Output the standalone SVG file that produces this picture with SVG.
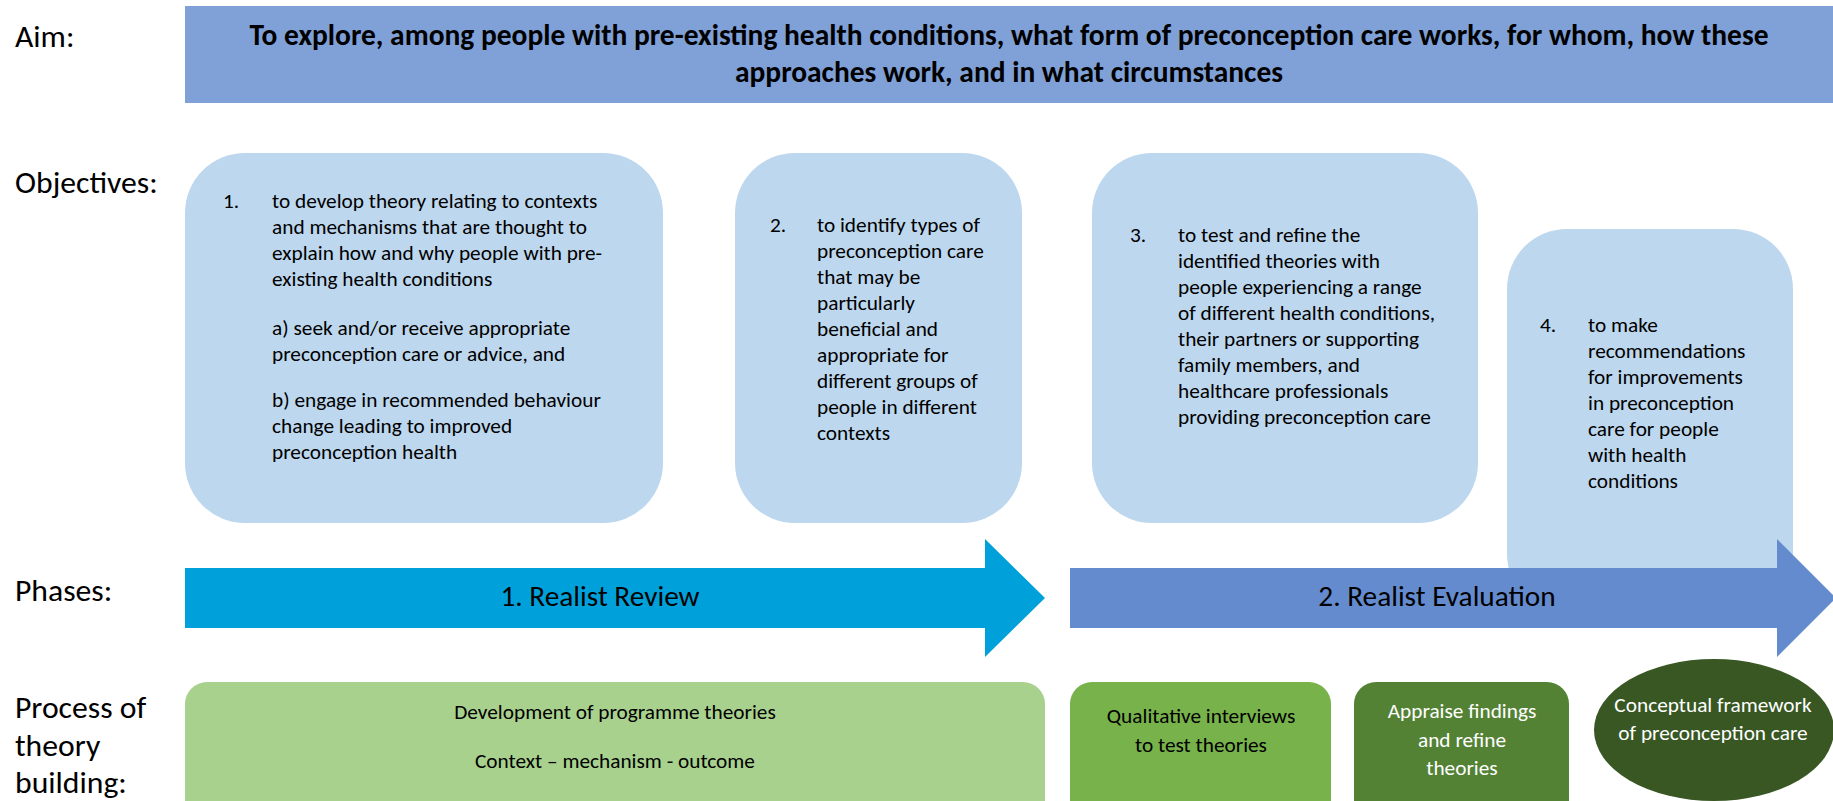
<svg xmlns="http://www.w3.org/2000/svg" width="1833" height="801" viewBox="0 0 1833 801">
<style>
text{font-family:Carlito,Lato,'Liberation Sans',sans-serif;fill:#000}
.lbl{font-size:31.7px}
.aim{font-size:29.3px;font-weight:bold}
.t{font-size:21.3px}
.ph{font-size:29.3px}
.w{fill:#fff}
.c{text-anchor:middle}
.obj{fill:#BDD7EE}
</style>
<rect width="1833" height="801" fill="#fff"/>
<g id="labels">
<text class="lbl" x="15" y="47">Aim:</text>
<text class="lbl" x="15" y="193">Objectives:</text>
<text class="lbl" x="15" y="601">Phases:</text>
<text class="lbl" x="15" y="718">Process of</text>
<text class="lbl" x="15" y="756">theory</text>
<text class="lbl" x="15" y="793">building:</text>
</g>
<g id="aim">
<rect x="185" y="6" width="1648" height="97" fill="#7FA1D8"/>
<text class="aim c" x="1009" y="45" textLength="1519" lengthAdjust="spacingAndGlyphs">To explore, among people with pre-existing health conditions, what form of preconception care works, for whom, how these</text>
<text class="aim c" x="1009" y="82" textLength="548" lengthAdjust="spacingAndGlyphs">approaches work, and in what circumstances</text>
</g>
<g id="objective1">
<rect class="obj" x="185" y="153" width="478" height="370" rx="60" ry="60"/>
<text class="t" x="223" y="208">1.</text>
<text class="t" x="272" y="208">to develop theory relating to contexts</text>
<text class="t" x="272" y="234">and mechanisms that are thought to</text>
<text class="t" x="272" y="260">explain how and why people with pre-</text>
<text class="t" x="272" y="286">existing health conditions</text>
<text class="t" x="272" y="335">a) seek and/or receive appropriate</text>
<text class="t" x="272" y="361">preconception care or advice, and</text>
<text class="t" x="272" y="407">b) engage in recommended behaviour</text>
<text class="t" x="272" y="433">change leading to improved</text>
<text class="t" x="272" y="459">preconception health</text>
</g>
<g id="objective2">
<rect class="obj" x="735" y="153" width="287" height="370" rx="60" ry="60"/>
<text class="t" x="770" y="232">2.</text>
<text class="t" x="817" y="232">to identify types of</text>
<text class="t" x="817" y="258">preconception care</text>
<text class="t" x="817" y="284">that may be</text>
<text class="t" x="817" y="310">particularly</text>
<text class="t" x="817" y="336">beneficial and</text>
<text class="t" x="817" y="362">appropriate for</text>
<text class="t" x="817" y="388">different groups of</text>
<text class="t" x="817" y="414">people in different</text>
<text class="t" x="817" y="440">contexts</text>
</g>
<g id="objective3">
<rect class="obj" x="1092" y="153" width="386" height="370" rx="60" ry="60"/>
<text class="t" x="1130" y="242">3.</text>
<text class="t" x="1178" y="242">to test and refine the</text>
<text class="t" x="1178" y="268">identified theories with</text>
<text class="t" x="1178" y="294">people experiencing a range</text>
<text class="t" x="1178" y="320">of different health conditions,</text>
<text class="t" x="1178" y="346">their partners or supporting</text>
<text class="t" x="1178" y="372">family members, and</text>
<text class="t" x="1178" y="398">healthcare professionals</text>
<text class="t" x="1178" y="424">providing preconception care</text>
</g>
<g id="objective4">
<rect class="obj" x="1507" y="229" width="286" height="385" rx="60" ry="60"/>
<text class="t" x="1540" y="332">4.</text>
<text class="t" x="1588" y="332">to make</text>
<text class="t" x="1588" y="358">recommendations</text>
<text class="t" x="1588" y="384">for improvements</text>
<text class="t" x="1588" y="410">in preconception</text>
<text class="t" x="1588" y="436">care for people</text>
<text class="t" x="1588" y="462">with health</text>
<text class="t" x="1588" y="488">conditions</text>
</g>
<g id="phase1">
<polygon points="185,568 985,568 985,539 1045,598 985,657 985,628 185,628" fill="#00A1DB"/>
<text class="ph c" x="600" y="606">1. Realist Review</text>
</g>
<g id="phase2">
<polygon points="1070,568 1777,568 1777,539 1836,598 1777,657 1777,628 1070,628" fill="#658BCF"/>
<text class="ph c" x="1437" y="606">2. Realist Evaluation</text>
</g>
<g id="process1">
<rect x="185" y="682" width="860" height="140" rx="22" ry="22" fill="#A9D18E"/>
<text class="t c" x="615" y="719">Development of programme theories</text>
<text class="t c" x="615" y="768">Context – mechanism - outcome</text>
</g>
<g id="process2">
<rect x="1070" y="682" width="261" height="140" rx="22" ry="22" fill="#77B24B"/>
<text class="t c" x="1201" y="723">Qualitative interviews</text>
<text class="t c" x="1201" y="752">to test theories</text>
</g>
<g id="process3">
<rect x="1354" y="682" width="215" height="140" rx="22" ry="22" fill="#548235"/>
<text class="t c w" x="1462" y="718">Appraise findings</text>
<text class="t c w" x="1462" y="747">and refine</text>
<text class="t c w" x="1462" y="775">theories</text>
</g>
<g id="process4">
<ellipse cx="1714" cy="730" rx="120" ry="71" fill="#385723"/>
<text class="t c w" x="1713" y="712">Conceptual framework</text>
<text class="t c w" x="1713" y="740">of preconception care</text>
</g>
<g id="connectors"/>
</svg>
